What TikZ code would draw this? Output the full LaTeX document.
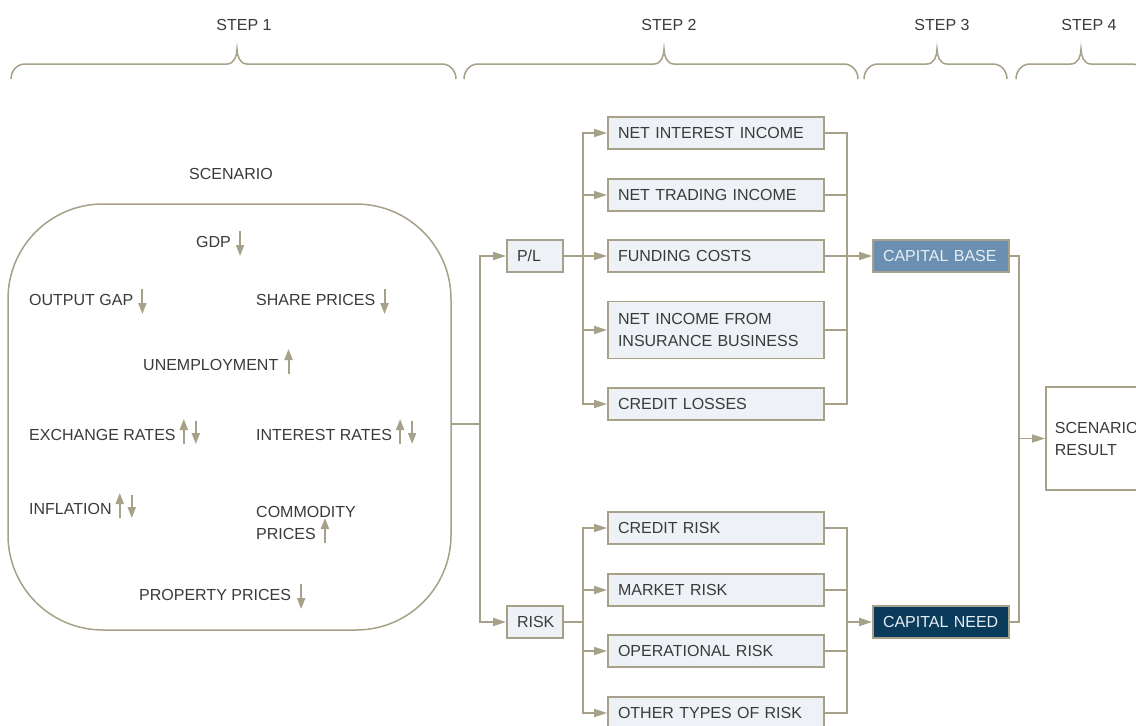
\documentclass[tikz,border=0pt]{standalone}
\usepackage{fontspec}
\setmainfont{Liberation Sans}
\usetikzlibrary{arrows.meta,calc}
\definecolor{tanc}{HTML}{A6A188}
\definecolor{boxf}{HTML}{EEF2F6}
\definecolor{txtc}{HTML}{3A3A3A}
\definecolor{cbase}{HTML}{6A8FB0}
\definecolor{cneed}{HTML}{0B3B5B}
\definecolor{ctxt}{HTML}{E6EEF4}
\newcommand\myfs{\fontsize{16}{22}\selectfont}
\newcommand\stepbrace[3]{%
  \draw[brace] (#1,-79) to[out=90,in=180] (#1+14,-64) -- (#2-10,-64)
    to[out=0,in=-90] (#2,-49) to[out=-90,in=180] (#2+10,-64) -- (#3-14,-64)
    to[out=0,in=90] (#3,-79);}
\newcommand\mydn[2]{\draw[sarr] ($(#1.base east)+(#2,16)$) -- ($(#1.base east)+(#2,-9)$);}
\newcommand\myup[2]{\draw[sarr] ($(#1.base east)+(#2,-4)$) -- ($(#1.base east)+(#2,21)$);}
\newcommand\mydnb[2]{\draw[sarr] ($(#1.base east)+(#2,19)$) -- ($(#1.base east)+(#2,-4)$);}
\begin{document}
\begin{tikzpicture}[x=1pt,y=1pt,
  txt/.style={inner sep=0pt, text=txtc, font=\myfs},
  box/.style={draw=tanc, line width=1.8pt, fill=boxf, minimum height=32pt,
    inner xsep=10pt, inner ysep=0pt, text width=196pt, align=left, text=txtc, font=\myfs},
  sbox/.style={box, text width=36pt},
  cbox/.style={box, text width=116pt, text=ctxt},
  conn/.style={draw=tanc, line width=1.5pt},
  arr/.style={conn, -{Triangle[length=13pt,width=8pt]}},
  sarr/.style={draw=tanc, line width=2pt, -{Triangle[length=11pt,width=8pt]}},
  brace/.style={draw=tanc, line width=1.5pt}]
\useasboundingbox (0,0) rectangle (1136,-726);
\clip (0,0) rectangle (1136,-726);
\fill[white] (0,0) rectangle (1136,-726);

% steps
\node[txt] (s1) at (244,-25) {STEP 1};
\node[txt] (s2) at (669,-25) {STEP 2};
\node[txt] (s3) at (942,-25) {STEP 3};
\node[txt] (s4) at (1089,-25) {STEP 4};
\stepbrace{11}{237}{456}
\stepbrace{464}{664}{858}
\stepbrace{864}{937}{1007}
\stepbrace{1016}{1081}{1146}

% scenario
\node[txt] (scenl) at (231,-174) {SCENARIO};
\node[draw=tanc, line width=1.5pt, rounded corners=95pt, minimum width=443pt,
  minimum height=426pt, inner sep=0pt] (scen) at (229.5,-417) {};
\node[txt, anchor=base west] (gdp) at (196,-247) {GDP};
\node[txt, anchor=base west] (ogap) at (29,-305) {OUTPUT GAP};
\node[txt, anchor=base west] (share) at (256,-305) {SHARE PRICES};
\node[txt, anchor=base west] (unemp) at (143,-370) {UNEMPLOYMENT};
\node[txt, anchor=base west] (exch) at (29,-440) {EXCHANGE RATES};
\node[txt, anchor=base west] (intr) at (256,-440) {INTEREST RATES};
\node[txt, anchor=base west] (infl) at (29,-514) {INFLATION};
\node[txt, anchor=base west] (comma) at (256,-517) {COMMODITY};
\node[txt, anchor=base west] (commb) at (256,-539) {PRICES};
\node[txt, anchor=base west] (prop) at (139,-600) {PROPERTY PRICES};
\mydn{gdp}{9}
\mydn{ogap}{9}
\mydn{share}{9}
\myup{unemp}{10}
\myup{exch}{8}\mydnb{exch}{20}
\myup{intr}{8}\mydnb{intr}{20}
\myup{infl}{8}\mydnb{infl}{20}
\myup{commb}{9}
\mydn{prop}{10}

% step 2 boxes
\node[sbox] (pl) at (535,-256) {P/L};
\node[sbox] (risk) at (535,-622) {RISK};
\node[box] (nii) at (716,-133) {NET INTEREST INCOME};
\node[box] (nti) at (716,-195) {NET TRADING INCOME};
\node[box] (fc) at (716,-256) {FUNDING COSTS};
\node[box, minimum height=57pt] (nif) at (716,-330) {NET INCOME FROM\\INSURANCE BUSINESS};
\node[box] (cl) at (716,-404) {CREDIT LOSSES};
\node[box] (cr) at (716,-528) {CREDIT RISK};
\node[box] (mr) at (716,-590) {MARKET RISK};
\node[box] (orisk) at (716,-651) {OPERATIONAL RISK};
\node[box] (ot) at (716,-713) {OTHER TYPES OF RISK};

% step 3, 4
\node[cbox, fill=cbase] (cb) at (941,-256) {CAPITAL BASE};
\node[cbox, fill=cneed] (cn) at (941,-622) {CAPITAL NEED};
\node[box, fill=white, anchor=west, minimum height=103pt, inner xsep=9pt, text width=120pt]
  (res) at (1045,-438.5) {SCENARIO\\RESULT};

% connectors
\coordinate (j0) at (480,0);
\coordinate (j1) at (583,0);
\coordinate (j2) at (847,0);
\coordinate (j3) at (1019,0);
\coordinate (so) at ($(scen.east)+(0,-7)$);
\draw[arr] (so) -- (so -| j0) |- (pl.west);
\draw[arr] (so) -- (so -| j0) |- (risk.west);
\foreach \b in {nii,nti,fc,nif,cl}{\draw[arr] (pl.east) -- (pl.east -| j1) |- (\b.west);}
\foreach \b in {cr,mr,orisk,ot}{\draw[arr] (risk.east) -- (risk.east -| j1) |- (\b.west);}
\foreach \b in {nii,nti,nif,cl}{\draw[conn] (\b.east) -| (j2 |- fc.east);}
\draw[arr] (fc.east) -- (cb.west);
\foreach \b in {cr,mr,orisk,ot}{\draw[conn] (\b.east) -| (j2 |- cn.west);}
\draw[arr] (j2 |- cn.west) -- (cn.west);
\draw[conn] (cb.east) -| (j3 |- res.west);
\draw[conn] (cn.east) -| (j3 |- res.west);
\draw[arr] (j3 |- res.west) -- (res.west);
\end{tikzpicture}
\end{document}
